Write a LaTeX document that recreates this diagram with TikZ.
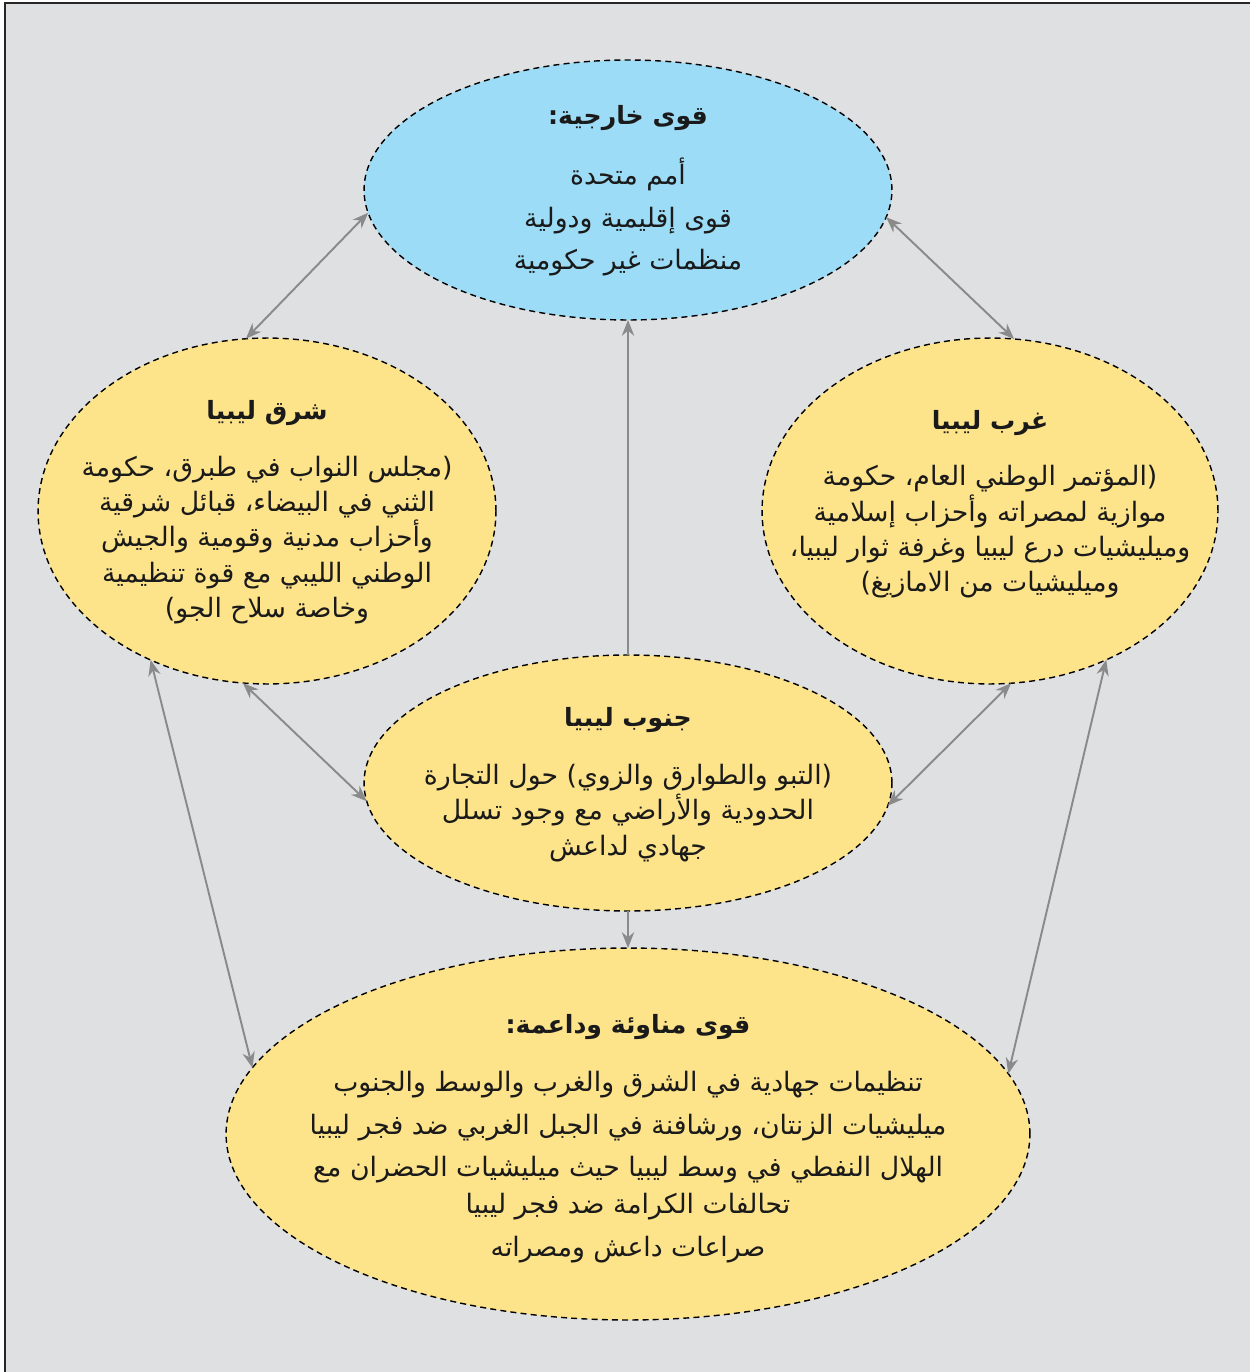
\documentclass[tikz,border=0pt]{standalone}
\usepackage{fontspec}
\usetikzlibrary{shapes.geometric,arrows.meta}
\TeXXeTstate=1
\newfontfamily\arabicfont[Script=Arabic]{DejaVu Sans}
\newcommand\ar[1]{\beginR #1\endR}
\definecolor{bgc}{HTML}{DFE0E2}
\definecolor{bluef}{HTML}{9DDCF7}
\definecolor{yelf}{HTML}{FDE38A}
\definecolor{arc}{HTML}{8A8A8A}
\definecolor{txc}{HTML}{1A1A1A}
\tikzset{
  ell/.style={ellipse, draw=black, dashed, dash pattern=on 3.4pt off 2.4pt, line width=0.8pt, inner sep=0pt, outer sep=0pt},
  ttl/.style={font=\arabicfont\fontsize{14.3}{17}\selectfont\bfseries, text=txc, inner sep=0pt},
  bdy/.style={font=\arabicfont\fontsize{15.2}{20.1}\selectfont, text=txc, align=center, inner sep=0pt},
  conn/.style={draw=arc, line width=1.1pt, {Stealth[length=9pt,width=7pt]}-{Stealth[length=9pt,width=7pt]}},
  conn1/.style={draw=arc, line width=1.1pt, -{Stealth[length=9pt,width=7pt]}}
}
\begin{document}
\begin{tikzpicture}[x=0.02cm,y=-0.02cm]
\useasboundingbox (0,0) rectangle (1250,1372);
\begin{scope}
\clip (0,0) rectangle (1250,1372);
\fill[white] (0,0) rectangle (1250,1372);
\draw[fill=bgc, line width=1.2pt, draw=black!85] (5,3) rectangle (1270,1390);
\end{scope}
% ellipses
\node[ell, fill=bluef, minimum width=10.56cm, minimum height=5.2cm] (T) at (628,190) {};
\node[ell, fill=yelf, minimum width=9.16cm, minimum height=6.92cm] (L) at (267,511) {};
\node[ell, fill=yelf, minimum width=9.12cm, minimum height=6.92cm] (R) at (990,511) {};
\node[ell, fill=yelf, minimum width=10.56cm, minimum height=5.12cm] (M) at (628,783) {};
\node[ell, fill=yelf, minimum width=16.08cm, minimum height=7.44cm] (B) at (628,1134) {};
% texts
\node[ttl] (Tt) at (628,118) {\ar{قوى خارجية:}};
\node[bdy, font=\arabicfont\fontsize{15.2}{24.1}\selectfont] (Tb) at (628,217) {\ar{أمم متحدة}\\\ar{قوى إقليمية ودولية}\\\ar{منظمات غير حكومية}};
\node[ttl] (Lt) at (267,413) {\ar{شرق ليبيا}};
\node[bdy] (Lb) at (267,540) {\ar{(مجلس النواب في طبرق، حكومة}\\\ar{الثني في البيضاء، قبائل شرقية}\\\ar{وأحزاب مدنية وقومية والجيش}\\\ar{الوطني الليبي مع قوة تنظيمية}\\\ar{وخاصة سلاح الجو)}};
\node[ttl] (Rt) at (990,423) {\ar{غرب ليبيا}};
\node[bdy] (Rb) at (990,532) {\ar{(المؤتمر الوطني العام، حكومة}\\\ar{موازية لمصراته وأحزاب إسلامية}\\\ar{وميليشيات درع ليبيا وغرفة ثوار ليبيا،}\\\ar{وميليشيات من الامازيغ)}};
\node[ttl] (Mt) at (628,720) {\ar{جنوب ليبيا}};
\node[bdy] (Mb) at (628,813) {\ar{(التبو والطوارق والزوي) حول التجارة}\\\ar{الحدودية والأراضي مع وجود تسلل}\\\ar{جهادي لداعش}};
\node[ttl] (Bt) at (628,1027) {\ar{قوى مناوئة وداعمة:}};
\node[bdy, font=\arabicfont\fontsize{15.2}{24.3}\selectfont] (Bb) at (628,1167) {\ar{تنظيمات جهادية في الشرق والغرب والوسط والجنوب}\\\ar{ميليشيات الزنتان، ورشافنة في الجبل الغربي ضد فجر ليبيا}\\\ar{الهلال النفطي في وسط ليبيا حيث ميليشيات الحضران مع}\\[-3.5pt]\ar{تحالفات الكرامة ضد فجر ليبيا}\\\ar{صراعات داعش ومصراته}};
% connectors
\draw[conn] (T.185.4) -- (L.97.4);
\draw[conn] (T.354.6) -- (R.82.6);
\draw[conn1] (M.north) -- (T.south);
\draw[conn] (L.262.9) -- (M.184.7);
\draw[conn] (R.277.4) -- (M.355.3);
\draw[conn1] (M.south) -- (B.north);
\draw[conn] (L.232) -- (B.170.4);
\draw[conn] (R.308.3) -- (B.9.5);
\end{tikzpicture}
\end{document}
